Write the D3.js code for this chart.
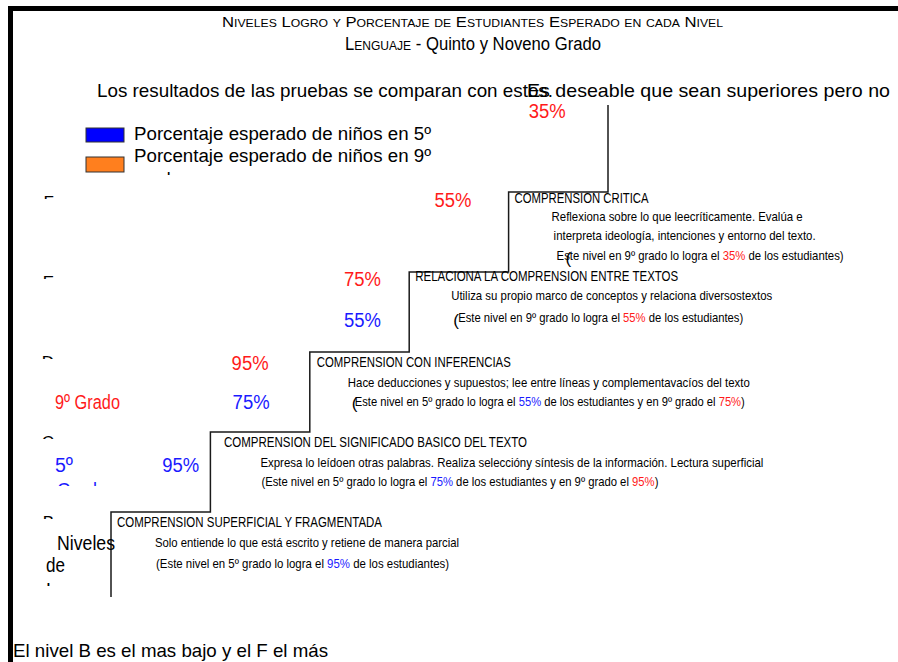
<!DOCTYPE html>
<html lang="es">
<head>
<meta charset="UTF-8">
<title>Niveles de Logro - Lenguaje</title>
<script src="https://d3js.org/d3.v7.min.js"></script>
<style>
  body { margin: 0; background: #fff; }
  text { font-family: "Liberation Sans Narrow", "Liberation Sans", Arial, sans-serif; }
</style>
</head>
<body>
<script>
// niveles, del mas bajo al mas alto
var levels = ["B", "C", "D", "E", "F"];
var levelTitles = [
  "COMPRENSION SUPERFICIAL Y FRAGMENTADA",
  "COMPRENSION DEL SIGNIFICADO BASICO DEL TEXTO",
  "COMPRENSION CON INFERENCIAS",
  "RELACIONA LA COMPRENSION ENTRE TEXTOS",
  "COMPRENSION CRITICA"
];
var levelDescriptions = [
  ["Solo entiende lo que está escrito y retiene de manera parcial"],
  ["Expresa lo leídoen otras palabras. Realiza seleccióny síntesis de la información. Lectura superficial"],
  ["Hace deducciones y supuestos; lee entre líneas y complementavacíos del texto"],
  ["Utiliza su propio marco de conceptos y relaciona diversostextos"],
  ["Reflexiona sobre lo que leecríticamente. Evalúa e", "interpreta ideología, intenciones y entorno del texto."]
];
// porcentaje esperado de estudiantes por nivel
var pct5 = [95, 75, 55, null, null];
var pct9 = [null, 95, 75, 55, 35];
var seriesNames = ["Porcentaje esperado de niños en 5º", "Porcentaje esperado de niños en 9º"];
var seriesColors = ["#0000ff", "#ff7f1e"];
var labelColors = ["#1a1aff", "#ff1a1a"];

var W = 898, H = 662;
var svg = d3.select("body").append("svg").attr("width", W).attr("height", H);
var defs = svg.append("defs");

// frame (top and left only)
svg.append("path").attr("d", "M10.5," + H + "V8.5H" + W)
  .attr("fill", "none").attr("stroke", "#000").attr("stroke-width", 5);

function richText(g, x, y, parts, size, width, anchor) {
  var t = g.append("text").attr("x", x).attr("y", y).attr("font-size", size);
  if (anchor) t.attr("text-anchor", anchor);
  parts.forEach(function (p) {
    t.append("tspan").attr("fill", p[1] || "#000").text(p[0]);
  });
  if (width) t.attr("textLength", width).attr("lengthAdjust", "spacingAndGlyphs");
  return t;
}
function clipRect(id, x, y, w, h) {
  defs.append("clipPath").attr("id", id).append("rect")
    .attr("x", x).attr("y", y).attr("width", w).attr("height", h);
  return "url(#" + id + ")";
}

// titles
var t1 = richText(svg, 222, 27, [["Niveles Logro y Porcentaje de Estudiantes Esperado en cada Nivel"]], 15, 501);
t1.style("font-variant", "small-caps");
var t2 = svg.append("text").attr("x", 345).attr("y", 50).attr("font-size", 18)
  .attr("textLength", 256).attr("lengthAdjust", "spacingAndGlyphs");
t2.append("tspan").style("font-variant", "small-caps").text("Lenguaje");
t2.append("tspan").text(" - Quinto y Noveno Grado");

richText(svg, 97, 97, [["Los resultados de las pruebas se comparan con estos."]], 19, 456);
richText(svg, 527, 97, [["Es deseable que sean superiores pero no"]], 19, 363);

// legend
var legendRows = [{y: 128, h: 14, base: 140, clip: 148}, {y: 157, h: 15, base: 162, clip: 175}];
seriesNames.forEach(function (name, i) {
  var r = legendRows[i];
  svg.append("rect").attr("x", 86).attr("y", r.y).attr("width", 38).attr("height", r.h)
    .attr("fill", seriesColors[i]).attr("stroke", "#333").attr("stroke-width", 1);
  var g = svg.append("g").attr("clip-path", clipRect("leg" + i, 130, r.y - 10, 320, r.clip - r.y + 10));
  richText(g, 134, r.base, [[name]], 18, 297);
  richText(g, 134, r.base + 23, [["grado"]], 18, 47);
});

// scales
var x = d3.scaleBand().domain(levels).range([111, 608]).paddingInner(0).paddingOuter(0);
var y = d3.scalePoint().domain(levels).range([512, 192]);
var bw = x.bandwidth();
var stairBottom = 597, stairTop = 105;

// staircase
var pts = [[x("B"), stairBottom]];
levels.forEach(function (l) {
  pts.push([x(l), y(l)]);
  pts.push([x(l) + bw, y(l)]);
});
pts.push([x("F") + bw, stairTop]);
svg.append("path").attr("d", d3.line()(pts))
  .attr("fill", "none").attr("stroke", "#1a1a1a").attr("stroke-width", 1.5);

// level axis letters (only their tops show)
var axisClip = defs.append("clipPath").attr("id", "axclip");
levels.forEach(function (l) {
  axisClip.append("rect").attr("x", 30).attr("y", y(l) + 3).attr("width", 40).attr("height", 4);
});
var axWrap = svg.append("g").attr("clip-path", "url(#axclip)");
var ax = axWrap.append("g").attr("transform", "translate(54,10)")
  .call(d3.axisLeft(y).tickSize(0).tickPadding(0));
ax.select(".domain").remove();
ax.selectAll("text").attr("font-size", 17).attr("fill", "#000")
  .attr("font-family", "Liberation Sans, Arial, sans-serif");

// text block offsets from each step corner: [dx, dy, width]
var blockLayout = {
  B: {head: [6, 15, 265], lines: [[44, 35, 304]], note: [45, 56, 293]},
  C: {head: [13.6, 15, 303], lines: [[50, 35, 503]], note: [51, 54, 397]},
  D: {head: [7, 15, 194], lines: [[38, 35, 402]], note: [45, 54, 390], paren: [42, 57]},
  E: {head: [6, 9, 263], lines: [[42, 28, 321]], note: [49, 50, 285], paren: [44, 54]},
  F: {head: [6, 11, 134], lines: [[43, 29, 251], [45, 48, 262]], note: [48, 68, 287], paren: [57, 72]}
};

levels.forEach(function (l, i) {
  var cx = x(l), cy = y(l), L = blockLayout[l];
  richText(svg, cx + L.head[0], cy + L.head[1], [[levelTitles[i]]], 14, L.head[2]);
  levelDescriptions[i].forEach(function (line, k) {
    var s = L.lines[k];
    richText(svg, cx + s[0], cy + s[1], [[line]], 13, s[2]);
  });
  var parts = [[(L.paren ? "" : "(") + "Este nivel en " + (pct5[i] != null ? "5º" : "9º") + " grado lo logra el "]];
  if (pct5[i] != null) {
    parts.push([pct5[i] + "%", labelColors[0]]);
    if (pct9[i] != null) {
      parts.push([" de los estudiantes y en 9º grado el "]);
      parts.push([pct9[i] + "%", labelColors[1]]);
      parts.push([")"]);
    } else {
      parts.push([" de los estudiantes)"]);
    }
  } else {
    parts.push([pct9[i] + "%", labelColors[1]]);
    parts.push([" de los estudiantes)"]);
  }
  richText(svg, cx + L.note[0], cy + L.note[1], parts, 13, L.note[2]);
  if (L.paren) richText(svg, cx + L.paren[0], cy + L.paren[1], [["("]], 17);
});

// percentage labels
var pctNudge = [
  {B: [20, -40], C: [-9, -23], D: [3, -25]},
  {C: [-10, -62], D: [3, -66], E: [-6, -65], F: [-11, -74]}
];
[pct5, pct9].forEach(function (vals, s) {
  var data = levels.map(function (l, i) { return {level: l, v: vals[i]}; })
    .filter(function (d) { return d.v != null; });
  svg.selectAll("text.pct" + s).data(data).enter().append("text")
    .attr("class", "pct" + s)
    .attr("x", function (d) { return x(d.level) + bw / 2 + pctNudge[s][d.level][0]; })
    .attr("y", function (d) { return y(d.level) + pctNudge[s][d.level][1]; })
    .attr("text-anchor", "middle").attr("font-size", 20)
    .attr("textLength", 37).attr("lengthAdjust", "spacingAndGlyphs")
    .attr("fill", labelColors[s])
    .text(function (d) { return d.v + "%"; });
});

// row labels
richText(svg, 55, 409, [["9º Grado", labelColors[1]]], 20, 65);
var g5 = svg.append("g").attr("clip-path", clipRect("g5", 40, 450, 80, 36));
richText(g5, 55, 472, [["5º", labelColors[0]]], 20, 18);
richText(g5, 57, 497, [["Grado", labelColors[0]]], 20, 50);
var gn = svg.append("g").attr("clip-path", clipRect("gn", 40, 530, 90, 56));
richText(gn, 57, 550, [["Niveles"]], 20, 58);
richText(gn, 46, 572, [["de"]], 20, 19);
richText(gn, 46, 597, [["Logro"]], 20, 48);

richText(svg, 13, 657, [["El nivel B es el mas bajo y el F el más"]], 19, 315);
</script>
</body>
</html>
